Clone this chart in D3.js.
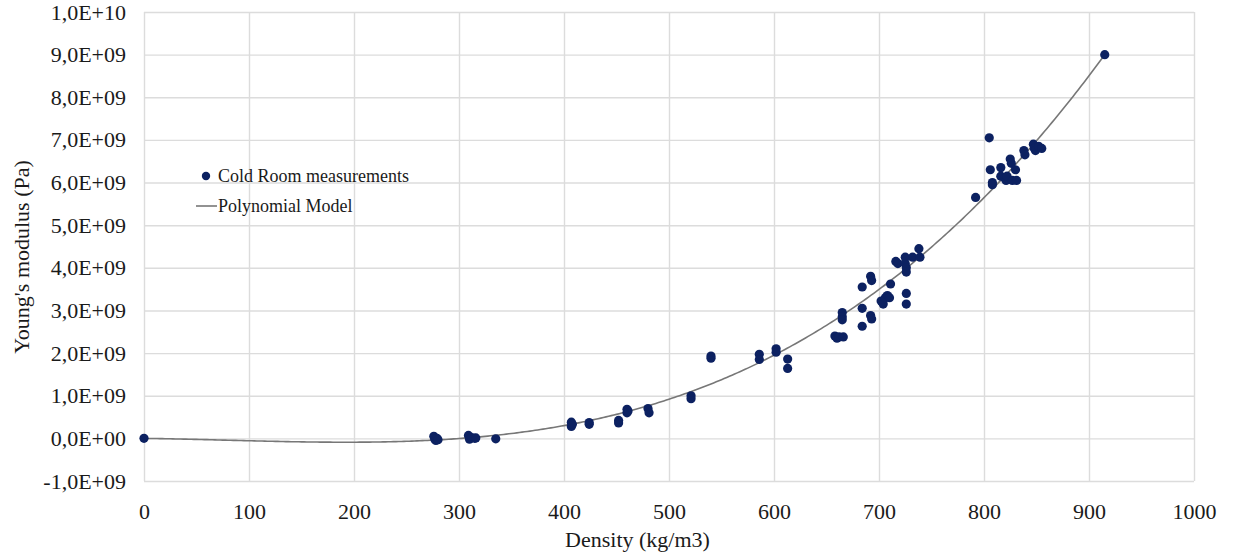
<!DOCTYPE html>
<html>
<head>
<meta charset="utf-8">
<script src="https://cdn.jsdelivr.net/npm/d3@7"></script>
<style>
  body { margin: 0; background: #fff; }
  text { font-family: "Liberation Serif", "Times New Roman", serif; fill: #1a1a1a; }
</style>
</head>
<body>
<svg id="chart" width="1235" height="559"></svg>
<script>
// Cold room measurements: density (kg/m3) and Young's modulus (Pa)
const density = [
  0,
  276, 277, 278, 279, 280,
  309, 310, 312, 315, 316,
  335,
  407, 407, 408,
  424, 424,
  452, 452,
  460, 460, 461,
  480, 481,
  521, 521,
  540, 540,
  586, 586,
  602, 602,
  613, 613,
  658, 660, 662, 665, 665, 665, 666,
  684, 684, 684,
  692, 692, 693, 693,
  702, 704, 706, 708, 710, 711,
  716, 718,
  725, 725, 726, 726, 726, 726,
  732,
  738, 739,
  792,
  805, 806, 808, 808,
  816, 816,
  820, 821, 822,
  825, 826, 827,
  830, 831,
  838, 839,
  847, 848, 849,
  852, 855,
  915
];
const modulus = [
  0,
  0.05e9, -0.02e9, -0.05e9, 0.0, -0.03e9,
  0.07e9, -0.02e9, 0.02e9, 0.0, 0.01e9,
  -0.01e9,
  0.38e9, 0.28e9, 0.33e9,
  0.37e9, 0.33e9,
  0.42e9, 0.36e9,
  0.68e9, 0.6e9, 0.64e9,
  0.7e9, 0.6e9,
  1.0e9, 0.93e9,
  1.93e9, 1.88e9,
  1.97e9, 1.85e9,
  2.1e9, 2.02e9,
  1.86e9, 1.64e9,
  2.4e9, 2.35e9, 2.38e9, 2.95e9, 2.85e9, 2.78e9, 2.38e9,
  3.55e9, 3.05e9, 2.63e9,
  3.8e9, 2.88e9, 3.7e9, 2.8e9,
  3.22e9, 3.15e9, 3.3e9, 3.35e9, 3.3e9, 3.62e9,
  4.15e9, 4.1e9,
  4.25e9, 4.1e9, 4.0e9, 3.9e9, 3.4e9, 3.15e9,
  4.25e9,
  4.45e9, 4.25e9,
  5.65e9,
  7.05e9, 6.3e9, 6.0e9, 5.95e9,
  6.35e9, 6.15e9,
  6.1e9, 6.05e9, 6.15e9,
  6.55e9, 6.45e9, 6.05e9,
  6.3e9, 6.05e9,
  6.75e9, 6.65e9,
  6.9e9, 6.8e9, 6.75e9,
  6.85e9, 6.8e9,
  9.0e9
];

// Polynomial model E(rho) = sum c_k * rho^k  (Pa, rho in kg/m3)
const modelCoeffs = [0, -343400, -3794, 16.305];
const modelRange = [0, 915];

const xTicks = [0, 100, 200, 300, 400, 500, 600, 700, 800, 900, 1000];
const yTicks = [-1e9, 0, 1e9, 2e9, 3e9, 4e9, 5e9, 6e9, 7e9, 8e9, 9e9, 1e10];

const legendLabels = ["Cold Room measurements", "Polynomial Model"];
const xTitle = "Density (kg/m3)";
const yTitle = "Young's modulus (Pa)";

const W = 1235, H = 559;
const margin = { top: 12, right: 41, bottom: 78, left: 144 };
const iw = W - margin.left - margin.right;
const ih = H - margin.top - margin.bottom;

const svg = d3.select("#chart");
const g = svg.append("g").attr("transform", `translate(${margin.left},${margin.top})`);

const x = d3.scaleLinear().domain([0, 1000]).range([0, iw]);
const y = d3.scaleLinear().domain([-1e9, 1e10]).range([ih, 0]);

// Scientific labels with a decimal comma, e.g. 1,0E+09
function sciComma(v) {
  if (v === 0) return "0,0E+00";
  const sign = v < 0 ? "-" : "";
  const a = Math.abs(v);
  const e = Math.floor(Math.log10(a) + 1e-9);
  const m = a / Math.pow(10, e);
  return sign + m.toFixed(1).replace(".", ",") + "E+" + String(e).padStart(2, "0");
}

const gridColor = "#dcdcdc";
const labelFont = '"Liberation Serif", "Times New Roman", serif';

// Horizontal gridlines + y labels
const yAxis = g.append("g")
  .call(d3.axisLeft(y).tickValues(yTicks).tickSize(-iw).tickPadding(18).tickFormat(sciComma));
yAxis.select(".domain").remove();
yAxis.selectAll(".tick line").attr("stroke", gridColor).attr("stroke-width", 1.4);
yAxis.selectAll(".tick text")
  .style("font-family", labelFont)
  .style("font-size", "22px").attr("fill", "#1a1a1a");

// Vertical gridlines + x labels
const xAxis = g.append("g").attr("transform", `translate(0,${ih})`)
  .call(d3.axisBottom(x).tickValues(xTicks).tickSize(-ih).tickPadding(22).tickFormat(d3.format("d")));
xAxis.select(".domain").remove();
xAxis.selectAll(".tick line").attr("stroke", gridColor).attr("stroke-width", 1.4);
xAxis.selectAll(".tick text")
  .style("font-family", labelFont)
  .style("font-size", "22px").attr("fill", "#1a1a1a");

// Polynomial model curve
const model = rho => modelCoeffs.reduce((s, c, k) => s + c * Math.pow(rho, k), 0);
const rhoSamples = d3.range(modelRange[0], modelRange[1] + 0.001, 2.5);
g.append("path")
  .datum(rhoSamples)
  .attr("fill", "none")
  .attr("stroke", "#777")
  .attr("stroke-width", 1.6)
  .attr("d", d3.line().x(r => x(r)).y(r => y(model(r))));

// Measurement points
const pointColor = "#0c2161";
g.append("g").selectAll("circle")
  .data(density.map((d, i) => [d, modulus[i]]))
  .join("circle")
  .attr("cx", d => x(d[0]))
  .attr("cy", d => y(d[1]))
  .attr("r", 4.6)
  .attr("fill", pointColor);

// Legend
const lg = svg.append("g");
lg.append("circle").attr("cx", 206).attr("cy", 176).attr("r", 4.2).attr("fill", pointColor);
lg.append("text").attr("x", 218).attr("y", 176).attr("dominant-baseline", "central")
  .style("font-size", "18px").text(legendLabels[0]);
lg.append("line").attr("x1", 196).attr("x2", 217).attr("y1", 206).attr("y2", 206)
  .attr("stroke", "#777").attr("stroke-width", 1.6);
lg.append("text").attr("x", 218).attr("y", 206).attr("dominant-baseline", "central")
  .style("font-size", "18px").text(legendLabels[1]);

// Axis titles
svg.append("text")
  .attr("x", margin.left + x(470)).attr("y", 547)
  .attr("text-anchor", "middle")
  .style("font-size", "22px").text(xTitle);
svg.append("text")
  .attr("transform", `translate(29,${257}) rotate(-90)`)
  .attr("text-anchor", "middle")
  .style("font-size", "22px").text(yTitle);
</script>
</body>
</html>
